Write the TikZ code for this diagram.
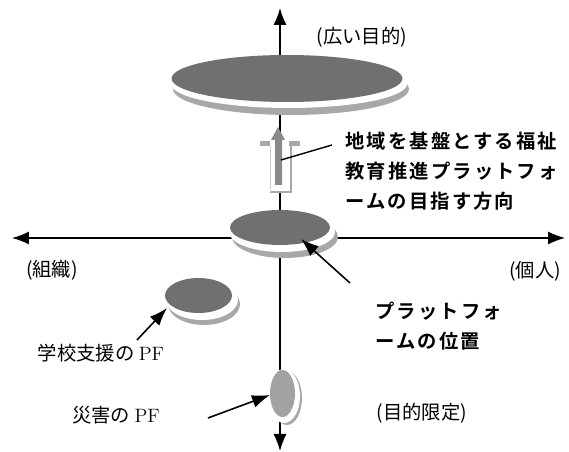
\documentclass[tikz,border=0pt]{standalone}
\usepackage{fontspec}
\newfontfamily\jp{Noto Sans CJK JP}
\newfontfamily\jpb{Noto Sans CJK JP Bold}[LetterSpace=11]
\usetikzlibrary{shapes.geometric,arrows.meta}
\definecolor{diskgray}{HTML}{707070}
\definecolor{lightdisk}{HTML}{A2A2A2}
\definecolor{rimgray}{HTML}{A8A8A8}
\definecolor{arrgray}{HTML}{8A8A8A}
\begin{document}
\begin{tikzpicture}[x=0.02cm,y=-0.02cm,
  lbl/.style={font=\jp\fontsize{11pt}{13pt}\selectfont, inner sep=0},
  note/.style={font=\jpb\fontsize{11pt}{17pt}\selectfont, align=left, anchor=west, inner sep=0},
  ax/.style={line width=0.7pt, {Latex[length=3.4mm,width=2.6mm]}-{Latex[length=3.4mm,width=2.6mm]}},
  ptr/.style={line width=0.9pt, -{Latex[length=3.6mm,width=2.6mm]}},
  disk/.style={ellipse, inner sep=0, outer sep=0, fill=diskgray},
  ring/.style={ellipse, inner sep=0, outer sep=0, fill=white},
  rim/.style={ellipse, inner sep=0, outer sep=0, fill=rimgray}]
\fill[white] (0,0) rectangle (569,452);
\useasboundingbox (0,0) rectangle (569,452);

% axes
\coordinate (axT) at (280,8);
\coordinate (axB) at (280,451);
\coordinate (axL) at (12,238);
\coordinate (axR) at (565,238);
\draw[ax] (axB) -- (axT);
\draw[ax] (axL) -- (axR);

% top disk
\node[rim, minimum width=4.72cm, minimum height=1.04cm] (topRim) at (291,89) {};
\node[ring, minimum width=4.72cm, minimum height=0.96cm] (topRing) at (289,84) {};
\node[disk, minimum width=4.62cm, minimum height=0.94cm] (top) at (287,78.5) {};

% middle disk
\node[rim, minimum width=2.12cm, minimum height=0.84cm] (midRim) at (285,237) {};
\node[ring, minimum width=2.12cm, minimum height=0.80cm] (midRing) at (282,232) {};
\node[disk, minimum width=2.0cm, minimum height=0.70cm] (mid) at (280,227.5) {};

% left disk
\node[rim, minimum width=1.44cm, minimum height=0.84cm] (leftRim) at (204,304) {};
\node[ring, minimum width=1.44cm, minimum height=0.80cm] (leftRing) at (202,300) {};
\node[disk, minimum width=1.34cm, minimum height=0.70cm] (left) at (198.5,295.5) {};

% bottom disk
\node[rim, minimum width=0.60cm, minimum height=1.08cm] (botRim) at (287,398) {};
\node[ring, minimum width=0.64cm, minimum height=1.08cm] (botRing) at (284,396) {};
\node[disk, fill=lightdisk, minimum width=0.50cm, minimum height=0.94cm] (bot) at (282.5,393.5) {};

% up block arrow with shadow
\fill[white] (260,141) rectangle (300,146);
\fill[white] (270,146) rectangle (291,192);
\draw[rimgray, line width=0.9pt] (291,146) -- (291,192) -- (270,192);
\draw[rimgray!60, line width=0.5pt] (270,192) -- (270,146);
\fill[rimgray] (260,141) rectangle (270,146);
\fill[rimgray] (289,141) rectangle (300,146);
\fill[arrgray] (278,127) -- (285,140) -- (282,140) -- (282,185)
  -- (275,185) -- (275,140) -- (271,140) -- cycle;
\coordinate (upArr) at (281,160);

% labels
\node[lbl] (wide) at (362,37) {(広い目的)};
\node[lbl] (org) at (52,270) {(組織)};
\node[lbl] (ind) at (535,271) {(個人)};
\node[lbl] (school) at (101,353) {学校支援の {\rmfamily PF}};
\node[lbl] (disaster) at (116,415) {災害の {\rmfamily PF}};
\node[lbl] (limited) at (422,413) {(目的限定)};

\node[note] (dir) at (345,171) {地域を基盤とする福祉\\教育推進プラットフォ\\ームの目指す方向};
\node[note] (pos) at (375,326) {プラットフォ\\ームの位置};

% pointers
\coordinate (dirS) at (332,145);
\draw[line width=0.8pt] (dirS) -- (upArr);
\coordinate (posS) at (350,283);
\coordinate (posT) at (301,239);
\draw[ptr] (posS) -- (posT);
\coordinate (schS) at (137,340);
\coordinate (schT) at (167,308);
\draw[ptr] (schS) -- (schT);
\coordinate (disS) at (208,418);
\coordinate (disT) at (270,395);
\draw[ptr] (disS) -- (disT);
\end{tikzpicture}
\end{document}
